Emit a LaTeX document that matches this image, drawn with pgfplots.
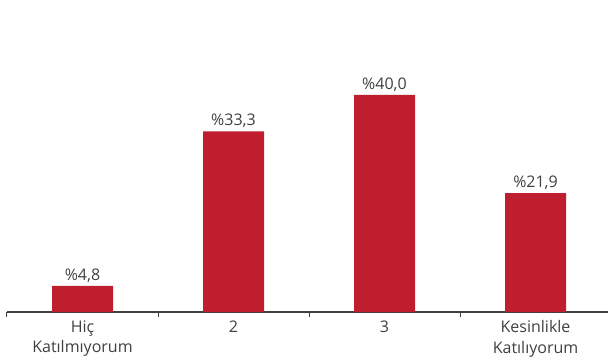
\documentclass[border=0pt]{standalone}
\usepackage{fontspec}
\setmainfont{Open Sans}
\usepackage{pgfplots}
\pgfplotsset{compat=1.18}
\definecolor{barred}{HTML}{BE1E2D}
\definecolor{txt}{HTML}{404040}
\begin{document}
\begin{tikzpicture}[x=1pt,y=1pt]
\path[use as bounding box] (-7,-48) rectangle (601,312);
\begin{axis}[
  at={(0,0)}, anchor=south west,
  scale only axis, width=601pt, height=312pt,
  xmin=-0.5, xmax=3.48, ymin=0, ymax=57.5,
  axis x line=bottom, axis y line=none,
  x axis line style={-, line width=1.2pt, color=txt},
  xtick={-0.5,0.5,1.5,2.5},
  xticklabels={},
  xtick align=outside,
  major tick length=5pt,
  xtick style={line width=1pt, color=txt},
  extra x ticks={0,1,2,3},
  extra x tick labels={Hiç\\Katılmıyorum,2,3,Kesinlikle\\Katılıyorum},
  extra x tick style={major tick length=0pt, tick style={draw=none}},
  x tick label style={align=center, font=\fontsize{16}{20.5}\selectfont, text=txt, anchor=north, yshift=-5pt},
  ybar, bar width=61pt,
  nodes near coords,
  point meta=explicit symbolic,
  nodes near coords style={font=\fontsize{16}{18}\selectfont, text=txt, anchor=south, yshift=0pt},
  clip=false,
]
\addplot[fill=barred, draw=none] coordinates {
  (0,4.8) [\%4,8]
  (1,33.3) [\%33,3]
  (2,40.0) [\%40,0]
  (3,21.9) [\%21,9]
};
\end{axis}
\end{tikzpicture}
\end{document}
